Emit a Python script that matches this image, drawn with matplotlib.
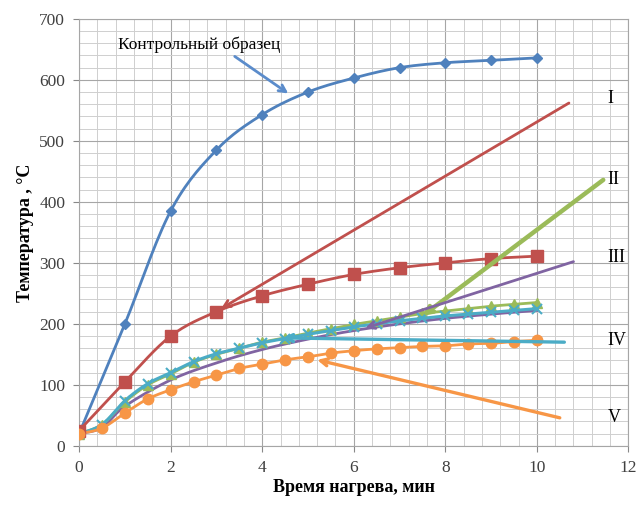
import numpy as np
import matplotlib.pyplot as plt
from matplotlib.ticker import MultipleLocator

# ================= DATA =================
x_ctrl = [0, 1, 2, 3, 4, 5, 6, 7, 8, 9, 10]
t_ctrl = [20, 200, 385, 485, 543, 580, 603, 620, 628, 632, 636]

x_red = [0, 1, 2, 3, 4, 5, 6, 7, 8, 9, 10]
t_red = [25, 105, 180, 220, 246, 265, 281, 292, 300, 307, 311]

x_half = [0, 0.5, 1, 1.5, 2, 2.5, 3, 3.5, 4, 4.5, 5, 5.5, 6, 6.5, 7, 7.5, 8, 8.5, 9, 9.5, 10]
t_green = [20, 35, 72, 100, 118, 137, 150, 160, 170, 177, 185, 192, 199, 205, 211, 217, 221, 225, 229, 232, 235]
t_teal = [20, 35, 74, 102, 120, 138, 151, 160, 169, 176, 183, 189, 195, 200, 205, 209, 213, 216, 219, 222, 225]
t_orange = [20, 29, 54, 77, 92, 105, 116, 127, 134, 141, 146, 152, 156, 159, 161, 163, 164, 167, 168, 171, 173]

x_purple = [0, 0.5, 1, 2, 3, 4, 5, 6, 7, 8, 9, 10]
t_purple = [20, 30, 65, 108, 136, 158, 175, 189, 200, 209, 216, 222]

# pointer lines for samples I..V
ptr_labels = ["I", "II", "III", "IV", "V"]
ptr_tail_x = [10.7, 11.45, 10.8, 10.6, 10.5]
ptr_tail_y = [562, 436, 302, 170, 46]
ptr_head_x = [3.1, 7.5, 6.25, 4.45, 5.2]
ptr_head_y = [225, 213, 193, 177, 141]
label_y = [570, 436, 308, 172, 46]

c_blue = "#4F81BD"
c_red = "#C0504D"
c_green = "#9BBB59"
c_purple = "#8064A2"
c_teal = "#4BACC6"
c_orange = "#F79646"
ptr_colors = [c_red, c_green, c_purple, c_teal, c_orange]
ptr_widths = [2.0, 3.2, 2.0, 2.4, 2.4]


# ================= SMOOTHING (Catmull-Rom, like Excel) =================
def smooth(xs, ys, n=16):
    xs = np.asarray(xs, float)
    ys = np.asarray(ys, float)
    px = np.concatenate(([xs[0]], xs, [xs[-1]]))
    py = np.concatenate(([ys[0]], ys, [ys[-1]]))
    out_x, out_y = [], []
    t = np.linspace(0, 1, n, endpoint=False)
    for i in range(1, len(px) - 2):
        for arr, p in ((out_x, px), (out_y, py)):
            p0, p1, p2, p3 = p[i - 1], p[i], p[i + 1], p[i + 2]
            seg = 0.5 * ((2 * p1) + (-p0 + p2) * t +
                         (2 * p0 - 5 * p1 + 4 * p2 - p3) * t ** 2 +
                         (-p0 + 3 * p1 - 3 * p2 + p3) * t ** 3)
            arr.extend(seg)
    out_x.append(xs[-1])
    out_y.append(ys[-1])
    return out_x, out_y


plt.rcParams["font.family"] = ["Liberation Serif", "DejaVu Serif"]

fig = plt.figure(figsize=(6.38, 5.09), dpi=100)
ax = fig.add_axes([0.124, 0.124, 0.861, 0.839])

ax.set_xlim(0, 12)
ax.set_ylim(0, 700)
ax.xaxis.set_major_locator(MultipleLocator(2))
ax.xaxis.set_minor_locator(MultipleLocator(0.4))
ax.yaxis.set_major_locator(MultipleLocator(100))
ax.yaxis.set_minor_locator(MultipleLocator(20))
ax.grid(which="major", color="#A6A6A6", linewidth=0.8)
ax.grid(which="minor", color="#CFCFCF", linewidth=0.7)
ax.set_axisbelow(True)
ax.tick_params(which="minor", length=0)
ax.tick_params(which="major", length=4, color="#888888", labelsize=12.5,
               labelcolor="#404040", pad=6)
for s in ax.spines.values():
    s.set_color("#A6A6A6")

# ================= SERIES =================
sx, sy = smooth(x_ctrl, t_ctrl)
ax.plot(sx, sy, color=c_blue, lw=2, zorder=5)
ax.plot(x_ctrl, t_ctrl, ls="none", marker="D", ms=5.5, color=c_blue, zorder=6)

sx, sy = smooth(x_red, t_red)
ax.plot(sx, sy, color=c_red, lw=2, zorder=5)
ax.plot(x_red, t_red, ls="none", marker="s", ms=8, color=c_red, zorder=6)

sx, sy = smooth(x_purple, t_purple)
ax.plot(sx, sy, color=c_purple, lw=2, zorder=4)

sx, sy = smooth(x_half, t_green)
ax.plot(sx, sy, color=c_green, lw=2, zorder=4)
ax.plot(x_half, t_green, ls="none", marker="^", ms=7, color=c_green, zorder=5)

sx, sy = smooth(x_half, t_teal)
ax.plot(sx, sy, color=c_teal, lw=2.2, zorder=5)
ax.plot(x_half, t_teal, ls="none", marker="x", ms=7, mew=1.5, color=c_teal, zorder=5)

sx, sy = smooth(x_half, t_orange)
ax.plot(sx, sy, color=c_orange, lw=2, zorder=5)
ax.plot(x_half, t_orange, ls="none", marker="o", ms=7.5, color=c_orange, zorder=6)

# ================= POINTERS =================
ax.annotate("", xy=(4.62, 575), xytext=(3.35, 641),
            arrowprops=dict(arrowstyle="->,head_length=0.5,head_width=0.25",
                            color="#5B8CCB", lw=2), zorder=7)
ax.text(0.85, 657, "Контрольный образец", fontsize=12.5, va="center", ha="left")

for i in range(len(ptr_labels)):
    ax.annotate("", xy=(ptr_head_x[i], ptr_head_y[i]),
                xytext=(ptr_tail_x[i], ptr_tail_y[i]),
                arrowprops=dict(arrowstyle="->,head_length=0.5,head_width=0.25",
                                color=ptr_colors[i], lw=ptr_widths[i],
                                shrinkA=0, shrinkB=0), zorder=7)
    ax.text(11.55, label_y[i], ptr_labels[i], fontsize=13, va="center", ha="left")

ax.set_xlabel("Время нагрева, мин", fontsize=13, fontweight="bold", labelpad=2)
ax.set_ylabel("Температура , °С", fontsize=13, fontweight="bold", labelpad=4)

fig.savefig("out.png", dpi=100)
